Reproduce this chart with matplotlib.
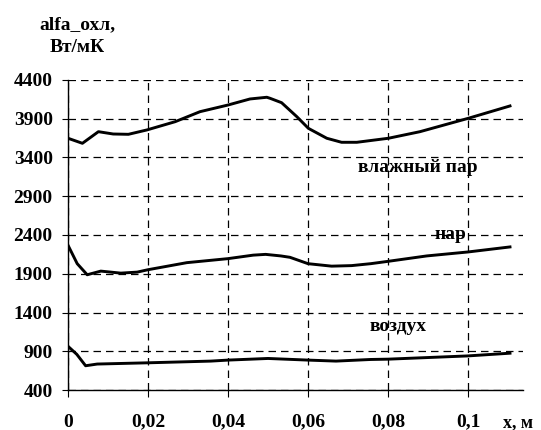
import matplotlib.pyplot as plt

plt.rcParams['font.family'] = ['Liberation Serif', 'DejaVu Serif']
plt.rcParams['font.weight'] = 'bold'

# влажный пар
x_vp = [0.0, 0.0036, 0.0076, 0.0113, 0.0151, 0.0197, 0.0268, 0.033, 0.040, 0.0455,
        0.0497, 0.0505, 0.0534, 0.0572, 0.0601, 0.0647, 0.0684, 0.0722, 0.0801,
        0.088, 0.1001, 0.1105]
y_vp = [3648, 3583, 3733, 3703, 3699, 3755, 3862, 3991, 4077, 4155,
        4177, 4164, 4107, 3927, 3776, 3648, 3596, 3596, 3648,
        3733, 3906, 4065]

# пар
x_p = [0.0, 0.0023, 0.0048, 0.0082, 0.0132, 0.0173, 0.020, 0.0297, 0.040, 0.0463,
       0.0494, 0.0532, 0.0555, 0.060, 0.0659, 0.0709, 0.0757, 0.080, 0.0897,
       0.100, 0.1105]
y_p = [2268, 2030, 1887, 1934, 1908, 1921, 1952, 2043, 2095, 2140,
       2150, 2130, 2112, 2030, 1998, 2005, 2030, 2060, 2130,
       2181, 2246]

# воздух
x_v = [0.0, 0.0022, 0.0044, 0.0073, 0.020, 0.0357, 0.040, 0.050, 0.060, 0.067,
       0.0757, 0.080, 0.100, 0.1105]
y_v = [964, 860, 713, 735, 751, 773, 786, 807, 786, 773,
       794, 798, 840, 875]

yticks = [400, 900, 1400, 1900, 2400, 2900, 3400, 3900, 4400]
xticks = [0, 0.02, 0.04, 0.06, 0.08, 0.1]
xlabels = ['0', '0,02', '0,04', '0,06', '0,08', '0,1']

fig = plt.figure(figsize=(5.41, 4.30), dpi=100)
ax = fig.add_axes([0.1257, 0.093, 0.841, 0.721])

for xs, ys in [(x_vp, y_vp), (x_p, y_p), (x_v, y_v)]:
    ax.plot(xs, ys, color='black', lw=2.1, zorder=3)

ax.set_xlim(0, 0.11375)
ax.set_ylim(400, 4400)
ax.set_yticks(yticks)
ax.set_xticks(xticks)
ax.set_xticklabels(xlabels)

ax.grid(True, color='black', linestyle=(0, (6, 4)), linewidth=0.9)
ax.spines['top'].set_visible(False)
ax.spines['right'].set_visible(False)
ax.spines['left'].set_linewidth(1.0)
ax.spines['bottom'].set_linewidth(1.0)

ax.tick_params(axis='y', direction='out', length=4, labelsize=14, pad=7)
ax.tick_params(axis='x', direction='out', length=5, labelsize=14, pad=12)

ax.text(0.0875, 3265, 'влажный пар', fontsize=14, ha='center', va='center')
ax.text(0.0955, 2400, 'нар', fontsize=14, ha='center', va='center')
ax.text(0.0825, 1213, 'воздух', fontsize=14, ha='center', va='center')

fig.text(77.5 / 541, 1 - 25 / 430, 'alfa_охл,', fontsize=14, ha='center', va='center')
fig.text(77.5 / 541, 1 - 48 / 430, 'Вт/мК', fontsize=14, ha='center', va='center')
fig.text(518 / 541, 1 - 423 / 430, 'x, м', fontsize=13, ha='center', va='center')

fig.savefig('out.png', dpi=100)
